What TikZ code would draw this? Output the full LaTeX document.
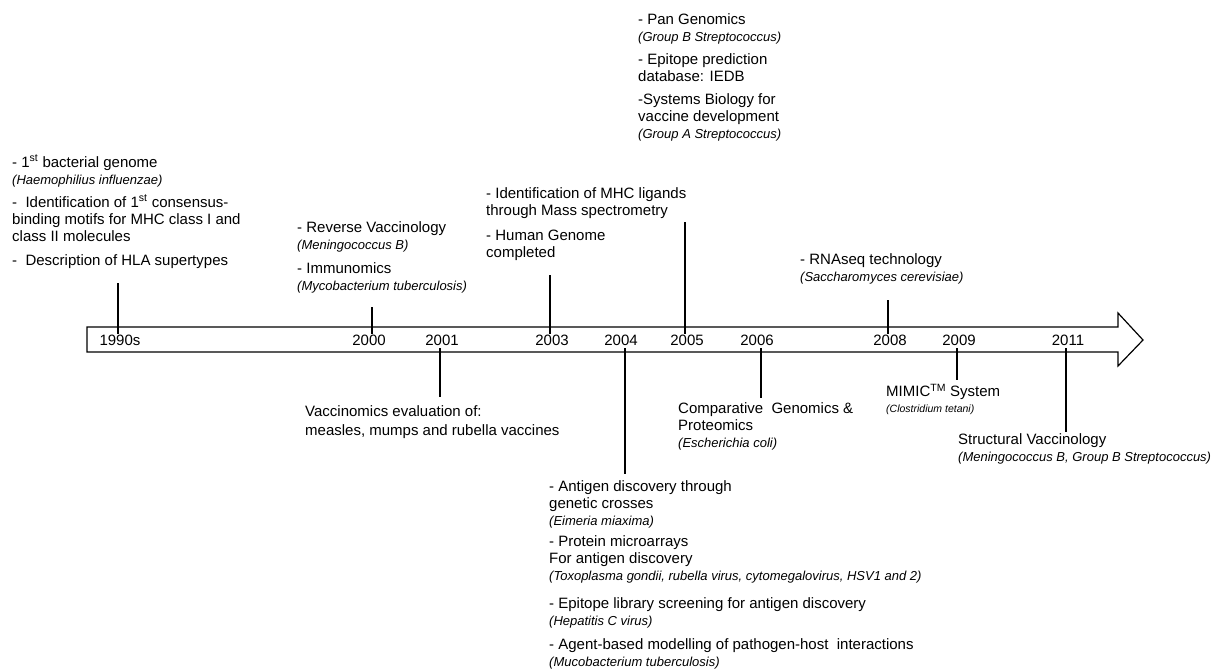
\documentclass[tikz,border=0pt]{standalone}
\usepackage{fontspec}
\setmainfont{Liberation Sans}
\newcommand\organism[1]{{\fontsize{13}{15}\selectfont\itshape #1}}
\newcommand\tinyorganism[1]{{\fontsize{10.5}{12}\selectfont\itshape #1}}

\begin{document}
\begin{tikzpicture}[x=1pt,y=-1pt,
  txt/.style={anchor=north west,inner sep=0pt,align=left,
    font=\fontsize{15}{17}\selectfont,execute at begin node=\strut},
  year/.style={anchor=base,inner sep=0pt,font=\fontsize{15}{17}\selectfont},
  tick/.style={line width=1.6pt},
  shaft/.style={line width=1.2pt,line join=miter}]
\useasboundingbox (0,0) rectangle (1223,671);

% timeline arrow
\coordinate (tail top) at (87,327);
\coordinate (tail bot) at (87,352);
\coordinate (tip) at (1143,340);
\draw[shaft] (tail top) -- (1118,327) -- (1118,313) -- (tip)
  -- (1118,366) -- (1118,352) -- (tail bot) -- cycle;

% years
\node[year] (y1990) at (120,345) {1990s};
\node[year] (y2000) at (369,345) {2000};
\node[year] (y2001) at (442,345) {2001};
\node[year] (y2003) at (552,345) {2003};
\node[year] (y2004) at (621,345) {2004};
\node[year] (y2005) at (687,345) {2005};
\node[year] (y2006) at (757,345) {2006};
\node[year] (y2008) at (890,345) {2008};
\node[year] (y2009) at (959,345) {2009};
\node[year] (y2011) at (1068,345) {2011};

% ticks above
\coordinate (up1990) at (118,283);
\coordinate (up2000) at (372,307);
\coordinate (up2003) at (550,275);
\coordinate (up2005) at (685,222);
\coordinate (up2008) at (888,300);
\draw[tick] (up1990) -- (up1990 |- y1990.north);
\draw[tick] (up2000) -- (up2000 |- y2000.north);
\draw[tick] (up2003) -- (up2003 |- y2003.north);
\draw[tick] (up2005) -- (up2005 |- y2005.north);
\draw[tick] (up2008) -- (up2008 |- y2008.north);

% ticks below
\coordinate (dn2001) at (440,397);
\coordinate (dn2004) at (625,474);
\coordinate (dn2006) at (761,398);
\coordinate (dn2009) at (957,380);
\coordinate (dn2011) at (1066,432);
\draw[tick] ([yshift=-3pt]dn2001 |- y2001.south) -- (dn2001);
\draw[tick] ([yshift=-3pt]dn2004 |- y2004.south) -- (dn2004);
\draw[tick] ([yshift=-3pt]dn2006 |- y2006.south) -- (dn2006);
\draw[tick] ([yshift=-3pt]dn2009 |- y2009.south) -- (dn2009);
\draw[tick] ([yshift=-3pt]dn2011 |- y2011.south) -- (dn2011);

% events above the line (y = first baseline - 12)
\node[txt] (ev1990) at (12,155) {- 1\textsuperscript{st} bacterial genome\\
  \organism{(Haemophilius influenzae)}\\[6pt]
  -\ \ Identification of 1\textsuperscript{st} consensus-\\
  binding motifs for MHC class I and\\
  class II molecules\\[7pt]
  -\ \ Description of HLA supertypes};
\node[txt] (ev2000) at (297,221) {- Reverse Vaccinology\\
  \organism{(Meningococcus B)}\\[7pt]
  - Immunomics\\
  \organism{(Mycobacterium tuberculosis)}};
\node[txt] (ev2003) at (486,187) {- Identification of MHC ligands\\
  through Mass spectrometry\\[8pt]
  - Human Genome\\
  completed};
\node[txt] (ev2005) at (638,13) {- Pan Genomics\\
  \organism{(Group B Streptococcus)}\\[6pt]
  - Epitope prediction\\
  database: IEDB\\[6pt]
  -Systems Biology for\\
  vaccine development\\
  \organism{(Group A Streptococcus)}};
\node[txt] (ev2008) at (800,253) {- RNAseq technology\\
  \organism{(Saccharomyces cerevisiae)}};

% events below the line
\node[txt] (ev2001) at (305,405) {Vaccinomics evaluation of:\\[2pt]
  measles, mumps and rubella vaccines};
\node[txt] (ev2006) at (678,402) {Comparative\ \ Genomics \&\\
  Proteomics\\
  \organism{(Escherichia coli)}};
\node[txt] (ev2009) at (886,384) {MIMIC\textsuperscript{TM} System\\[-1pt]
  \tinyorganism{(Clostridium tetani)}};
\node[txt] (ev2011) at (958,433) {Structural Vaccinology\\
  \organism{(Meningococcus B, Group B Streptococcus)}};
\node[txt] (ev2004) at (549,480) {- Antigen discovery through\\
  genetic crosses\\
  \organism{(Eimeria miaxima)}\\[4pt]
  - Protein microarrays\\
  For antigen discovery\\
  \organism{(Toxoplasma gondii, rubella virus, cytomegalovirus, HSV1 and 2)}\\[11pt]
  - Epitope library screening for antigen discovery\\
  \organism{(Hepatitis C virus)}\\[7pt]
  - Agent-based modelling of pathogen-host\ \ interactions\\
  \organism{(Mucobacterium tuberculosis)}};

\end{tikzpicture}
\end{document}
